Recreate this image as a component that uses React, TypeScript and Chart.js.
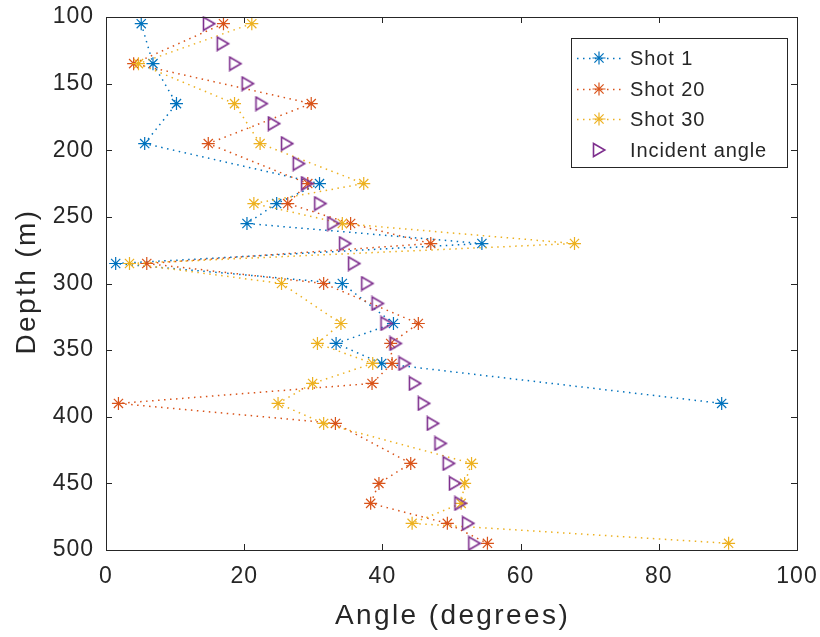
import React, { useEffect, useRef } from "react";
import { Chart, registerables } from "chart.js";

Chart.register(...registerables);

// ---- Data ----
const shot1Depth = [105, 135, 165, 195, 225, 240, 255, 270, 285, 300, 330, 345, 360, 390];
const shot1Angle = [5.1, 6.8, 10.2, 5.6, 30.9, 24.7, 20.4, 54.4, 1.4, 34.2, 41.6, 33.3, 39.9, 89.1];

const shot20Depth = [105, 135, 165, 195, 225, 240, 255, 270, 285, 300, 330, 345, 360, 375, 390, 405, 435, 450, 465, 480, 495];
const shot20Angle = [17.0, 4.0, 29.7, 14.8, 29.2, 26.3, 35.4, 47.0, 5.9, 31.5, 45.2, 41.2, 41.4, 38.5, 1.8, 33.2, 44.1, 39.5, 38.3, 49.4, 55.2];

const shot30Depth = [105, 135, 165, 195, 225, 240, 255, 270, 285, 300, 330, 345, 360, 375, 390, 405, 435, 450, 465, 480, 495];
const shot30Angle = [21.1, 4.7, 18.6, 22.3, 37.3, 21.4, 34.2, 67.8, 3.4, 25.4, 34.0, 30.6, 38.6, 29.9, 24.9, 31.5, 52.9, 51.9, 51.4, 44.3, 90.1];

const incidentDepth = [105, 120, 135, 150, 165, 180, 195, 210, 225, 240, 255, 270, 285, 300, 315, 330, 345, 360, 375, 390, 405, 420, 435, 450, 465, 480, 495];
const incidentAngle = [14.9, 16.9, 18.7, 20.5, 22.5, 24.3, 26.2, 27.9, 29.1, 31.0, 32.9, 34.6, 35.9, 37.8, 39.3, 40.6, 41.9, 43.2, 44.7, 46.0, 47.3, 48.4, 49.6, 50.5, 51.3, 52.4, 53.3];

const seriesNames = ["Shot 1", "Shot 20", "Shot 30", "Incident angle"];
const xTitle = "Angle (degrees)";
const yTitle = "Depth (m)";

const BLUE = "#0072BD";
const RED = "#D95319";
const YELLOW = "#EDB120";
const PURPLE = "#7E2F8E";
const AXIS = "#262626";
const FONT = "'Liberation Sans', Arial, Helvetica, sans-serif";

function toPoints(xs: number[], ys: number[]) {
  return xs.map((x, i) => ({ x, y: ys[i] }));
}

function makeTriangle(color: string): HTMLCanvasElement {
  const c = document.createElement("canvas");
  c.width = 16;
  c.height = 16;
  const g = c.getContext("2d")!;
  g.strokeStyle = color;
  g.lineWidth = 1.6;
  g.lineJoin = "miter";
  g.beginPath();
  g.moveTo(2.5, 1.5);
  g.lineTo(13.8, 8);
  g.lineTo(2.5, 14.5);
  g.closePath();
  g.stroke();
  return c;
}

function drawStar(ctx: CanvasRenderingContext2D, x: number, y: number, r: number, color: string) {
  ctx.save();
  ctx.strokeStyle = color;
  ctx.lineWidth = 1.2;
  ctx.setLineDash([]);
  ctx.beginPath();
  for (let k = 0; k < 4; k++) {
    const a = (k * Math.PI) / 4;
    ctx.moveTo(x - Math.cos(a) * r, y - Math.sin(a) * r);
    ctx.lineTo(x + Math.cos(a) * r, y + Math.sin(a) * r);
  }
  ctx.stroke();
  ctx.restore();
}

const boxPlugin = {
  id: "matlabBox",
  beforeDraw(chart: any) {
    (chart.ctx as any).letterSpacing = "1px";
  },
  afterDraw(chart: any) {
    const { ctx, chartArea } = chart;
    const { left, right, top, bottom } = chartArea;
    const xs = chart.scales.x;
    const ys = chart.scales.y;
    ctx.save();
    ctx.strokeStyle = AXIS;
    ctx.lineWidth = 1;
    ctx.setLineDash([]);
    // inward ticks
    const tl = 6;
    ctx.beginPath();
    xs.ticks.forEach((t: any) => {
      const px = Math.round(xs.getPixelForValue(t.value)) + 0.5;
      ctx.moveTo(px, bottom);
      ctx.lineTo(px, bottom - tl);
      ctx.moveTo(px, top);
      ctx.lineTo(px, top + tl);
    });
    ys.ticks.forEach((t: any) => {
      const py = Math.round(ys.getPixelForValue(t.value)) + 0.5;
      ctx.moveTo(left, py);
      ctx.lineTo(left + tl, py);
      ctx.moveTo(right, py);
      ctx.lineTo(right - tl, py);
    });
    ctx.stroke();
    ctx.strokeRect(Math.round(left) + 0.5, Math.round(top) + 0.5, Math.round(right - left), Math.round(bottom - top));

    // axis titles
    ctx.fillStyle = AXIS;
    ctx.font = `28px ${FONT}`;
    (ctx as any).letterSpacing = "2.4px";
    ctx.textAlign = "center";
    ctx.textBaseline = "alphabetic";
    ctx.fillText(xTitle, (left + right) / 2 + 1, 624);
    ctx.save();
    ctx.translate(35, (top + bottom) / 2 - 1);
    ctx.rotate(-Math.PI / 2);
    ctx.fillText(yTitle, 1, 0);
    ctx.restore();

    // legend
    const lx = 571, ly = 38, lw = 216, lh = 129;
    ctx.fillStyle = "#ffffff";
    ctx.fillRect(lx, ly, lw, lh);
    ctx.strokeStyle = AXIS;
    ctx.lineWidth = 1;
    ctx.strokeRect(lx + 0.5, ly + 0.5, lw, lh);
    const rows = [58, 89, 119, 150];
    chart.data.datasets.forEach((ds: any, i: number) => {
      const ry = rows[i];
      if (ds.showLine) {
        ctx.save();
        ctx.strokeStyle = ds.borderColor;
        ctx.lineWidth = 1.5;
        ctx.setLineDash([1.5, 4.5]);
        ctx.beginPath();
        ctx.moveTo(577, ry + 0.5);
        ctx.lineTo(625, ry + 0.5);
        ctx.stroke();
        ctx.restore();
      }
      if (ds.pointStyle === "star") {
        drawStar(ctx, 599, ry, 6.5, ds.borderColor);
      } else if (ds.pointStyle instanceof HTMLCanvasElement) {
        const img = ds.pointStyle as HTMLCanvasElement;
        ctx.drawImage(img, 599 - img.width / 2, ry - img.height / 2);
      }
      ctx.fillStyle = AXIS;
      ctx.font = `20px ${FONT}`;
      (ctx as any).letterSpacing = "0.9px";
      ctx.textBaseline = "middle";
      ctx.textAlign = "left";
      ctx.fillText(ds.label, 630, ry + 1);
    });
    ctx.restore();
    (ctx as any).letterSpacing = "0px";
  },
};

export default function App() {
  const ref = useRef<HTMLCanvasElement | null>(null);

  useEffect(() => {
    if (!ref.current) return;
    const tri = makeTriangle(PURPLE);
    const lineDs = (label: string, xs: number[], ys: number[], color: string, order: number) => ({
      label,
      data: toPoints(xs, ys),
      showLine: true,
      borderColor: color,
      backgroundColor: color,
      borderWidth: 1.5,
      borderDash: [1.5, 4.5],
      pointStyle: "star",
      pointRadius: 6.5,
      pointBorderWidth: 1.2,
      pointBorderColor: color,
      order,
      clip: false,
    });
    const chart = new Chart(ref.current, {
      type: "scatter",
      data: {
        datasets: [
          lineDs(seriesNames[0], shot1Angle, shot1Depth, BLUE, 4),
          lineDs(seriesNames[1], shot20Angle, shot20Depth, RED, 3),
          lineDs(seriesNames[2], shot30Angle, shot30Depth, YELLOW, 2),
          {
            label: seriesNames[3],
            data: toPoints(incidentAngle, incidentDepth),
            showLine: false,
            borderColor: PURPLE,
            backgroundColor: PURPLE,
            pointStyle: tri as any,
            pointRadius: 7,
            order: 1,
            clip: false,
          } as any,
        ] as any,
      },
      options: {
        responsive: false,
        animation: false,
        devicePixelRatio: 1,
        layout: { autoPadding: false, padding: { left: 0, top: 17, right: 23, bottom: 0 } },
        plugins: {
          legend: { display: false },
          tooltip: { enabled: false },
        },
        scales: {
          x: {
            type: "linear",
            position: "bottom",
            min: 0,
            max: 100,
            grid: { display: false, drawTicks: false },
            border: { display: false },
            ticks: {
              stepSize: 20,
              padding: 13,
              color: AXIS,
              font: { family: FONT, size: 23 },
              maxRotation: 0,
            },
            title: { display: false },
            afterFit: (s: any) => {
              s.height = 87;
              s.paddingTop = 0;
              s.paddingBottom = 0;
              s.paddingLeft = 0;
              s.paddingRight = 0;
            },
          },
          y: {
            type: "linear",
            position: "left",
            reverse: true,
            min: 100,
            max: 500,
            grid: { display: false, drawTicks: false },
            border: { display: false },
            ticks: {
              stepSize: 50,
              padding: 12,
              color: AXIS,
              font: { family: FONT, size: 23 },
            },
            title: { display: false },
            afterFit: (s: any) => {
              s.width = 106;
              s.paddingTop = 0;
              s.paddingBottom = 0;
              s.paddingLeft = 0;
              s.paddingRight = 0;
            },
          },
        },
      } as any,
      plugins: [boxPlugin],
    });
    return () => chart.destroy();
  }, []);

  return (
    <div style={{ position: "absolute", left: 0, top: 0, width: 820, height: 637, background: "#fff" }}>
      <canvas ref={ref} width={820} height={637} style={{ display: "block" }} />
    </div>
  );
}
